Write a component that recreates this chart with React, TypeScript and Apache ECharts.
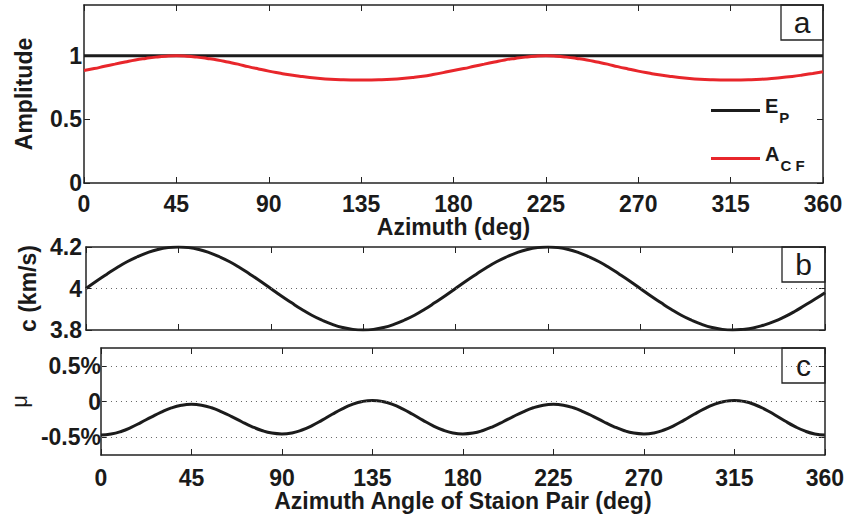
import * as echarts from "echarts";
import { useEffect, useRef } from "react";

const FONT = "'Liberation Sans', Arial, Helvetica, sans-serif";

// sample azimuths (deg), every 5 degrees
const azimuth = [
  0, 5, 10, 15, 20, 25, 30, 35, 40, 45, 50, 55, 60, 65, 70, 75, 80, 85, 90, 95, 100, 105, 110, 115, 120, 125, 130, 135, 140, 145, 150, 155, 160, 165, 170, 175,
  180, 185, 190, 195, 200, 205, 210, 215, 220, 225, 230, 235, 240, 245, 250, 255, 260, 265, 270, 275, 280, 285, 290, 295, 300, 305, 310, 315, 320, 325, 330, 335, 340, 345, 350, 355, 360,
];
// panel a
const epAzimuth = [0, 360];
const epValues = [1, 1];
const acfValues = [
  0.885, 0.9, 0.918, 0.935, 0.952, 0.968, 0.98, 0.99, 0.997, 1.0, 0.997, 0.99, 0.98, 0.968, 0.952, 0.935, 0.915, 0.897, 0.88,
  0.865, 0.851, 0.84, 0.83, 0.822, 0.816, 0.812, 0.81, 0.81, 0.81, 0.812, 0.816, 0.822, 0.83, 0.84, 0.853, 0.868, 0.885,
  0.9, 0.918, 0.935, 0.952, 0.968, 0.98, 0.99, 0.997, 1.0, 0.997, 0.99, 0.98, 0.968, 0.952, 0.935, 0.915, 0.897, 0.88,
  0.865, 0.851, 0.84, 0.83, 0.822, 0.816, 0.812, 0.81, 0.81, 0.81, 0.812, 0.816, 0.822, 0.83, 0.838, 0.849, 0.862, 0.875,
];
// panel b (km/s)
const velValues = [
  4.0, 4.035, 4.068, 4.1, 4.129, 4.153, 4.173, 4.188, 4.197, 4.2, 4.197, 4.188, 4.173, 4.153, 4.129, 4.1, 4.068, 4.035, 4.0,
  3.965, 3.932, 3.9, 3.871, 3.847, 3.827, 3.812, 3.803, 3.8, 3.803, 3.812, 3.827, 3.847, 3.871, 3.9, 3.932, 3.965, 4.0,
  4.035, 4.068, 4.1, 4.129, 4.153, 4.173, 4.188, 4.197, 4.2, 4.197, 4.188, 4.173, 4.153, 4.129, 4.1, 4.068, 4.035, 4.0,
  3.965, 3.932, 3.9, 3.871, 3.847, 3.827, 3.812, 3.803, 3.8, 3.803, 3.81, 3.823, 3.84, 3.862, 3.888, 3.918, 3.948, 3.98,
];
// panel c (%)
const muValues = [
  -0.47, -0.457, -0.42, -0.363, -0.292, -0.218, -0.148, -0.09, -0.053, -0.04,
  -0.052, -0.088, -0.144, -0.211, -0.284, -0.351, -0.406, -0.443, -0.455,
  -0.441, -0.4, -0.338, -0.261, -0.179, -0.103, -0.04, 0.001, 0.015,
  0.001, -0.04, -0.103, -0.179, -0.261, -0.338, -0.4, -0.441, -0.455,
  -0.443, -0.406, -0.351, -0.284, -0.211, -0.144, -0.088, -0.052, -0.04,
  -0.052, -0.088, -0.144, -0.211, -0.284, -0.351, -0.406, -0.443, -0.455,
  -0.441, -0.4, -0.338, -0.261, -0.179, -0.103, -0.04, 0.001, 0.015,
  0.0, -0.042, -0.106, -0.185, -0.27, -0.349, -0.413, -0.455, -0.47,
];

const ampTicks = [0, 0.5, 1];
const velTicks = [3.8, 4, 4.2];
const muTicks = [-0.5, 0, 0.5];
const velGridLines = [4];
const muGridLines = [-0.5, 0, 0.5];
const panelLetters = ["a", "b", "c"];

const LINE = "#1c1c1c";
const RED = "#e8262b";

const pairs = (xs: number[], ys: number[]) => xs.map((a, i) => [a, ys[i]]);

const boldText = { fontFamily: FONT, fontWeight: "bold" as const, fontSize: 23, color: "#1a1a1a" };
const frameLine = { show: true, onZero: false, lineStyle: { color: "#222", width: 1.5 } };
const inTick = { show: true, inside: true, length: 6, lineStyle: { color: "#222", width: 1 } };

function xAxisFor(grid: number, labels: boolean, name: string, nameGap: number, margin: number) {
  return [
    {
      type: "value",
      gridIndex: grid,
      min: 0,
      max: 360,
      interval: 45,
      position: "bottom",
      axisLine: frameLine,
      axisTick: inTick,
      splitLine: { show: false },
      axisLabel: { show: labels, margin, ...boldText },
      name,
      nameLocation: "middle",
      nameGap,
      nameTextStyle: boldText,
    },
    {
      type: "value",
      gridIndex: grid,
      min: 0,
      max: 360,
      interval: 45,
      position: "top",
      axisLine: frameLine,
      axisTick: inTick,
      splitLine: { show: false },
      axisLabel: { show: false },
    },
  ];
}

function yAxisFor(grid: number, min: number, max: number, ticks: number[], fmt: (v: number) => string, name: string, nameGap: number, margin: number, nameStyle: any) {
  return [
    {
      type: "value",
      gridIndex: grid,
      min,
      max,
      position: "left",
      axisLine: frameLine,
      axisTick: { ...inTick, customValues: ticks },
      splitLine: { show: false },
      axisLabel: { customValues: ticks, margin, formatter: fmt, ...boldText },
      name,
      nameLocation: "middle",
      nameGap,
      nameTextStyle: nameStyle,
    },
    {
      type: "value",
      gridIndex: grid,
      min,
      max,
      position: "right",
      axisLine: frameLine,
      axisTick: { ...inTick, customValues: ticks },
      splitLine: { show: false },
      axisLabel: { show: false },
    },
  ];
}

const dotted = { color: "#666", width: 1, type: [1, 4] };

function letterBox(x: number, y: number, w: number, h: number, letter: string) {
  return {
    type: "group",
    x,
    y,
    z: 100,
    children: [
      { type: "rect", shape: { x: 0, y: 0, width: w, height: h }, style: { fill: "#fff", stroke: "#222", lineWidth: 1.3 } },
      { type: "text", x: w / 2, y: h / 2, style: { text: letter, fontFamily: FONT, fontSize: 30, fill: "#1a1a1a", align: "center", verticalAlign: "middle" } },
    ],
  };
}

export default function App() {
  const ref = useRef<HTMLDivElement>(null);

  useEffect(() => {
    const chart = echarts.init(ref.current, null, { renderer: "svg" });
    chart.setOption({
      animation: false,
      backgroundColor: "#fff",
      grid: [
        { left: 84, top: 5, width: 739, height: 178 },
        { left: 86, top: 247, width: 739, height: 83 },
        { left: 86, top: 348, width: 739, height: 107 },
      ],
      xAxis: [
        ...xAxisFor(0, true, "Azimuth (deg)", 32, 9),
        ...xAxisFor(1, false, "", 0, 9),
        ...xAxisFor(2, true, "Azimuth Angle of Staion Pair (deg)", 28, 11),
      ],
      yAxis: [
        ...yAxisFor(0, 0, 1.4, ampTicks, (v) => String(v), "Amplitude", 49, 2, boldText),
        ...yAxisFor(1, 3.8, 4.2, velTicks, (v) => String(v), "c (km/s)", 44, 4, boldText),
        ...yAxisFor(2, -0.75, 0.75, muTicks, (v) => (v === 0 ? "0" : `${v}%`), "\u03bc", 62, 0, { fontFamily: FONT, fontSize: 22, color: "#1a1a1a" }),
      ],
      legend: {
        orient: "vertical",
        left: 706,
        top: 91,
        itemWidth: 49,
        itemHeight: 3,
        itemGap: 19,
        icon: "rect",
        selectedMode: false,
        data: ["E_P", "A_CF"],
        formatter: (name: string) => (name === "E_P" ? "{m|E}{s|P}" : "{m|A}{s|C F}"),
        textStyle: {
          rich: {
            m: { fontFamily: FONT, fontWeight: "bold", fontSize: 20, color: "#1a1a1a", verticalAlign: "top" },
            s: { fontFamily: FONT, fontWeight: "bold", fontSize: 15, color: "#1a1a1a", padding: [14, 0, 0, 1] },
          },
        },
      },
      series: [
        {
          name: "E_P",
          type: "line",
          xAxisIndex: 0,
          yAxisIndex: 0,
          data: pairs(epAzimuth, epValues),
          showSymbol: false,
          color: LINE,
          lineStyle: { color: LINE, width: 3 },
        },
        {
          name: "A_CF",
          type: "line",
          xAxisIndex: 0,
          yAxisIndex: 0,
          data: pairs(azimuth, acfValues),
          showSymbol: false,
          smooth: true,
          color: RED,
          lineStyle: { color: RED, width: 3 },
        },
        {
          name: "c",
          type: "line",
          xAxisIndex: 2,
          yAxisIndex: 2,
          data: pairs(azimuth, velValues),
          showSymbol: false,
          smooth: true,
          color: LINE,
          lineStyle: { color: LINE, width: 3 },
          markLine: {
            silent: true,
            symbol: "none",
            label: { show: false },
            lineStyle: dotted,
            data: velGridLines.map((v) => ({ yAxis: v })),
          },
        },
        {
          name: "mu",
          type: "line",
          xAxisIndex: 4,
          yAxisIndex: 4,
          data: pairs(azimuth, muValues),
          showSymbol: false,
          smooth: true,
          color: LINE,
          lineStyle: { color: LINE, width: 3 },
          markLine: {
            silent: true,
            symbol: "none",
            label: { show: false },
            lineStyle: dotted,
            data: muGridLines.map((v) => ({ yAxis: v })),
          },
        },
      ],
      graphic: [
        letterBox(781, 5, 42, 35, panelLetters[0]),
        letterBox(782, 247, 43, 35, panelLetters[1]),
        letterBox(782, 348, 43, 35, panelLetters[2]),
      ],
    });
    return () => chart.dispose();
  }, []);

  return <div ref={ref} style={{ position: "fixed", left: 0, top: 0, width: 847, height: 518 }} />;
}
